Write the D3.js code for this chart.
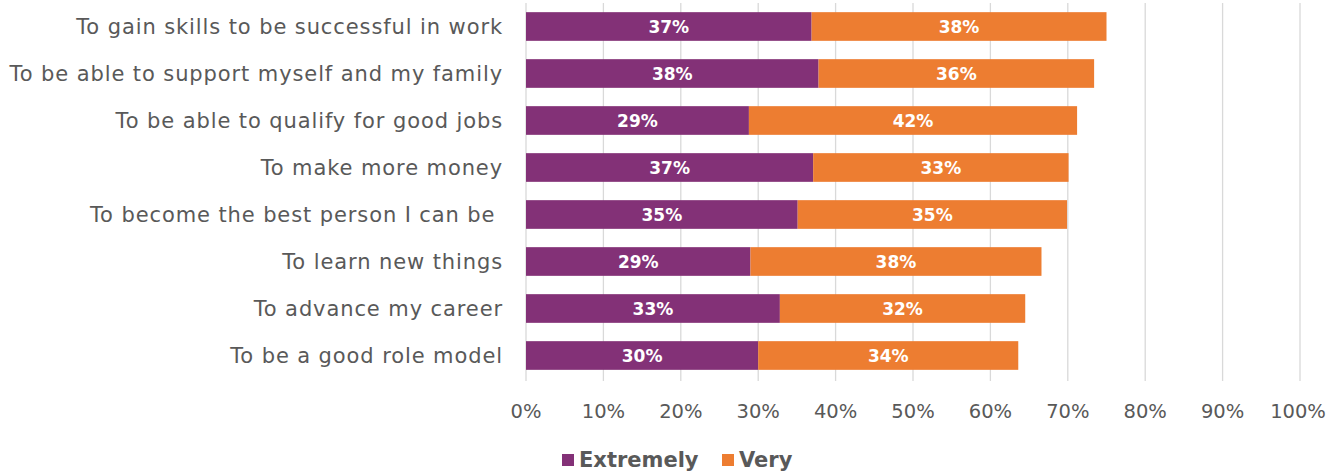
<!DOCTYPE html>
<html>
<head>
<meta charset="utf-8">
<script src="https://cdn.jsdelivr.net/npm/d3@7"></script>
<style>
  body { margin: 0; background: #fff; }
  svg { display: block; }
</style>
</head>
<body>
<script>
// data
var categories = [
    "To gain skills to be successful in work",
    "To be able to support myself and my family",
    "To be able to qualify for good jobs",
    "To make more money",
    "To become the best person I can be ",
    "To learn new things",
    "To advance my career",
    "To be a good role model"
];
var extremely = [36.9, 37.8, 28.8, 37.1, 35.1, 29.0, 32.8, 30.0];
var very = [38.1, 35.6, 42.4, 33.0, 34.8, 37.6, 31.7, 33.6];
var extremelyLabels = ["37%", "38%", "29%", "37%", "35%", "29%", "33%", "30%"];
var veryLabels = ["38%", "36%", "42%", "33%", "35%", "38%", "32%", "34%"];
var seriesNames = ["Extremely", "Very"];
var ticks = [0, 10, 20, 30, 40, 50, 60, 70, 80, 90, 100];

var width = 1327, height = 472;
var colors = ["#833177", "#ED7D31"];
var font = "'DejaVu Sans', sans-serif";

var svg = d3.select("body")
    .append("svg")
    .attr("width", width)
    .attr("height", height);

var x = d3.scaleLinear()
    .domain([0, 100])
    .range([526, 1300]);

var y = d3.scaleBand()
    .domain(categories)
    .range([3, 379])
    .paddingInner(0.39)
    .paddingOuter(0.195);

// gridlines
svg.append("g")
    .selectAll("line")
    .data(ticks)
    .enter().append("line")
    .attr("x1", function (d) { return x(d); })
    .attr("x2", function (d) { return x(d); })
    .attr("y1", 3)
    .attr("y2", 381)
    .style("stroke", "#d9d9d9")
    .style("stroke-width", 1.3);

// tick labels
svg.append("g")
    .selectAll("text")
    .data(ticks)
    .enter().append("text")
    .attr("x", function (d) { return d === 100 ? x(d) - 2 : x(d); })
    .attr("y", 418)
    .attr("text-anchor", "middle")
    .style("font-family", font)
    .style("font-size", "19.5px")
    .style("fill", "#595959")
    .text(function (d) { return d + "%"; });

// rows
var rows = categories.map(function (c, i) {
    return { cat: c, e: extremely[i], v: very[i], el: extremelyLabels[i], vl: veryLabels[i] };
});

var row = svg.append("g")
    .selectAll("g")
    .data(rows)
    .enter().append("g");

row.append("rect")
    .attr("x", x(0))
    .attr("y", function (d) { return y(d.cat); })
    .attr("width", function (d) { return x(d.e) - x(0); })
    .attr("height", y.bandwidth())
    .style("fill", colors[0]);

row.append("rect")
    .attr("x", function (d) { return x(d.e); })
    .attr("y", function (d) { return y(d.cat); })
    .attr("width", function (d) { return x(d.e + d.v) - x(d.e); })
    .attr("height", y.bandwidth())
    .style("fill", colors[1]);

row.append("text")
    .attr("x", function (d) { return (x(0) + x(d.e)) / 2; })
    .attr("y", function (d) { return y(d.cat) + y.bandwidth() / 2 + 6; })
    .attr("text-anchor", "middle")
    .style("font-family", font)
    .style("font-weight", "bold")
    .style("font-size", "17px")
    .style("fill", "#fff")
    .text(function (d) { return d.el; });

row.append("text")
    .attr("x", function (d) { return (x(d.e) + x(d.e + d.v)) / 2; })
    .attr("y", function (d) { return y(d.cat) + y.bandwidth() / 2 + 6; })
    .attr("text-anchor", "middle")
    .style("font-family", font)
    .style("font-weight", "bold")
    .style("font-size", "17px")
    .style("fill", "#fff")
    .text(function (d) { return d.vl; });

// category labels
row.append("text")
    .attr("x", 503)
    .attr("y", function (d) { return y(d.cat) + y.bandwidth() / 2 + 7; })
    .attr("text-anchor", "end")
    .style("font-family", font)
    .style("font-size", "21px")
    .style("letter-spacing", "0.9px")
    .style("fill", "#595959")
    .style("white-space", "pre")
    .text(function (d) { return d.cat; });

// legend
var legendX = [562, 722];
var legend = svg.append("g")
    .selectAll("g")
    .data(seriesNames)
    .enter().append("g")
    .attr("transform", function (d, i) { return "translate(" + legendX[i] + ",0)"; });

legend.append("rect")
    .attr("x", 0)
    .attr("y", 454)
    .attr("width", 12)
    .attr("height", 12)
    .style("fill", function (d, i) { return colors[i]; });

legend.append("text")
    .attr("x", 17)
    .attr("y", 467)
    .style("font-family", font)
    .style("font-weight", "bold")
    .style("font-size", "21px")
    .style("fill", "#595959")
    .text(function (d) { return d; });
</script>
</body>
</html>
